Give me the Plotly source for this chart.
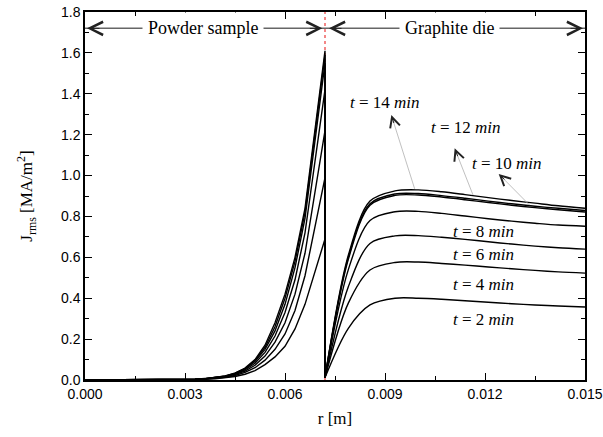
import plotly.graph_objects as go

# ---------------- data ----------------
interface_r = 0.0072
r_powder = [0.0, 0.0006, 0.0012, 0.0018, 0.0024, 0.003, 0.0033, 0.0036, 0.0039, 0.0042,
            0.0045, 0.0048, 0.0051, 0.0054, 0.0057, 0.006, 0.0063, 0.0066, 0.0072]
r_die = [0.0072, 0.0079, 0.00855, 0.0093, 0.0100, 0.0107, 0.0114, 0.0121, 0.0128,
         0.0135, 0.0142, 0.015]

times = [2, 4, 6, 8, 10, 12, 14]

J_powder_t2 = [0, 0.0001, 0.0002, 0.0004, 0.0007, 0.0012, 0.002, 0.0035, 0.006, 0.010,
               0.017, 0.028, 0.046, 0.075, 0.113, 0.165, 0.25, 0.37, 0.69]
J_powder_t4 = [0, 0.0001, 0.0002, 0.0004, 0.0008, 0.0015, 0.0025, 0.0045, 0.008, 0.013,
               0.022, 0.037, 0.060, 0.097, 0.150, 0.225, 0.34, 0.51, 0.99]
J_powder_t6 = [0, 0.0001, 0.0002, 0.0005, 0.0009, 0.0018, 0.003, 0.0055, 0.009, 0.015,
               0.026, 0.044, 0.072, 0.117, 0.185, 0.28, 0.42, 0.62, 1.22]
J_powder_t8 = [0, 0.0001, 0.0002, 0.0005, 0.001, 0.002, 0.0035, 0.006, 0.010, 0.017,
               0.029, 0.049, 0.082, 0.135, 0.215, 0.33, 0.49, 0.72, 1.42]
J_powder_t10 = [0, 0.0001, 0.0003, 0.0006, 0.0011, 0.0023, 0.0038, 0.0065, 0.011, 0.018,
                0.031, 0.053, 0.090, 0.150, 0.24, 0.37, 0.55, 0.79, 1.55]
J_powder_t12 = [0, 0.0001, 0.0003, 0.0006, 0.0012, 0.0024, 0.004, 0.0068, 0.0115, 0.019,
                0.033, 0.056, 0.095, 0.16, 0.26, 0.40, 0.58, 0.82, 1.59]
J_powder_t14 = [0, 0.0001, 0.0003, 0.0006, 0.0012, 0.0025, 0.004, 0.007, 0.012, 0.020,
                0.034, 0.058, 0.10, 0.17, 0.28, 0.42, 0.60, 0.84, 1.61]

J_die_t2 = [0.012, 0.253, 0.367, 0.400, 0.400, 0.395, 0.388, 0.380, 0.373, 0.367, 0.362, 0.357]
J_die_t4 = [0.012, 0.376, 0.538, 0.575, 0.577, 0.570, 0.562, 0.553, 0.544, 0.536, 0.529, 0.523]
J_die_t6 = [0.012, 0.456, 0.668, 0.705, 0.706, 0.698, 0.688, 0.676, 0.665, 0.655, 0.647, 0.640]
J_die_t8 = [0.012, 0.540, 0.780, 0.823, 0.825, 0.815, 0.802, 0.789, 0.777, 0.767, 0.758, 0.752]
J_die_t10 = [0.012, 0.590, 0.855, 0.903, 0.905, 0.895, 0.882, 0.868, 0.855, 0.843, 0.833, 0.822]
J_die_t12 = [0.012, 0.600, 0.862, 0.910, 0.912, 0.902, 0.889, 0.875, 0.862, 0.850, 0.840, 0.829]
J_die_t14 = [0.012, 0.610, 0.875, 0.925, 0.930, 0.921, 0.907, 0.892, 0.878, 0.865, 0.852, 0.840]

powder = [J_powder_t2, J_powder_t4, J_powder_t6, J_powder_t8, J_powder_t10, J_powder_t12, J_powder_t14]
die = [J_die_t2, J_die_t4, J_die_t6, J_die_t8, J_die_t10, J_die_t12, J_die_t14]

x_ticks = [0.0, 0.003, 0.006, 0.009, 0.012, 0.015]
y_ticks = [0.0, 0.2, 0.4, 0.6, 0.8, 1.0, 1.2, 1.4, 1.6, 1.8]

# label positions (r, J) for t labels
label_pos = {2: (0.01195, 0.294), 4: (0.01195, 0.468), 6: (0.01195, 0.612),
             8: (0.01195, 0.724), 10: (0.01265, 1.057), 12: (0.01142, 1.233),
             14: (0.00899, 1.355)}
# pointer lines: (tip r, tip J, curve r, curve J, tip pixel offset)
pointers = [(0.00919, 1.296, 0.00989, 0.935, 3, 9.5),
            (0.01109, 1.133, 0.01164, 0.905, 3.6, 9.3),
            (0.01241, 1.008, 0.01334, 0.855, 7.3, 6.9)]

band_y = 1.72

SERIF = "Liberation Serif"
SANS = "Liberation Sans"

fig = go.Figure()

# red dashed interface
fig.add_trace(go.Scatter(x=[interface_r, interface_r], y=[0, 1.8], mode="lines",
                         line=dict(color="#f06060", width=1.5, dash="dot"),
                         hoverinfo="skip", showlegend=False))

# section band lines
fig.add_trace(go.Scatter(x=[0, interface_r], y=[band_y, band_y], mode="lines",
                         line=dict(color="#666666", width=1.5), showlegend=False))
fig.add_trace(go.Scatter(x=[interface_r, x_ticks[-1]], y=[band_y, band_y], mode="lines",
                         line=dict(color="#666666", width=1.5), showlegend=False))

for t, jp, jd in zip(times, powder, die):
    # powder side plus the drop at the interface
    fig.add_trace(go.Scatter(x=r_powder + [r_die[0]], y=jp + [jd[0]], mode="lines",
                             line=dict(color="black", width=1.4),
                             name=f"t = {t} min", showlegend=False))
    # graphite die side
    fig.add_trace(go.Scatter(x=r_die, y=jd, mode="lines",
                             line=dict(color="black", width=1.4, shape="spline",
                                       smoothing=0.9),
                             name=f"t = {t} min", showlegend=False))

ann = []
# section labels
ann.append(dict(x=0.00354, y=band_y, text="Powder sample", showarrow=False,
                font=dict(family=SERIF, size=18, color="black"), bgcolor="white",
                borderpad=5))
ann.append(dict(x=0.01094, y=band_y, text="Graphite die", showarrow=False,
                font=dict(family=SERIF, size=18, color="black"), bgcolor="white",
                borderpad=5))
# chevrons at band ends
for hx, off in [(0.00006, 14), (interface_r - 0.00008, -14), (interface_r + 0.00012, 14),
                (x_ticks[-1] - 0.00006, -14)]:
    ann.append(dict(x=hx, y=band_y, ax=off, ay=0, text="", showarrow=True,
                    arrowhead=5, arrowsize=2.6, arrowwidth=1, arrowcolor="#222222",
                    standoff=0))

for t in times:
    x, y = label_pos[t]
    ann.append(dict(x=x, y=y, text=f"<i>t</i> = {t} <i>min</i>", showarrow=False,
                    font=dict(family=SERIF, size=17, color="black")))

for tx, ty, cx, cy, ox, oy in pointers:
    ann.append(dict(x=cx, y=cy, ax=tx, ay=ty, axref="x", ayref="y", text="",
                    showarrow=True, arrowhead=0, arrowwidth=0.8, arrowcolor="#b0b0b0",
                    standoff=0, startstandoff=0))
    ann.append(dict(x=tx, y=ty, ax=ox, ay=oy, text="", showarrow=True, arrowhead=5,
                    arrowsize=2.0, arrowwidth=1, arrowcolor="#222222", standoff=0))

fig.update_layout(
    width=603, height=437,
    margin=dict(l=85, r=18, t=12, b=57, autoexpand=False),
    paper_bgcolor="white", plot_bgcolor="white",
    annotations=ann,
    showlegend=False,
)

axis_common = dict(showline=True, linecolor="black", linewidth=1.5, mirror="allticks",
                   ticks="inside", ticklen=7, tickwidth=1.2, tickcolor="black",
                   showgrid=False, zeroline=False, automargin=False,
                   tickfont=dict(family=SANS, size=14, color="black"))

fig.update_xaxes(range=[0, 0.015], tickvals=x_ticks, tickformat=".3f",
                 minor=dict(dtick=0.0015, ticks="inside", ticklen=4, tickcolor="black",
                            tickwidth=1),
                 title=dict(text="r [m]", font=dict(family=SERIF, size=17, color="black"),
                            standoff=12),
                 **axis_common)
fig.update_yaxes(range=[0, 1.8], tickvals=y_ticks, tickformat=".1f",
                 minor=dict(dtick=0.1, ticks="inside", ticklen=4, tickcolor="black",
                            tickwidth=1),
                 title=dict(text="J<sub>rms</sub> [MA/m<sup>2</sup>]",
                            font=dict(family=SERIF, size=17, color="black"), standoff=24),
                 **axis_common)

fig.write_html("out.html")
